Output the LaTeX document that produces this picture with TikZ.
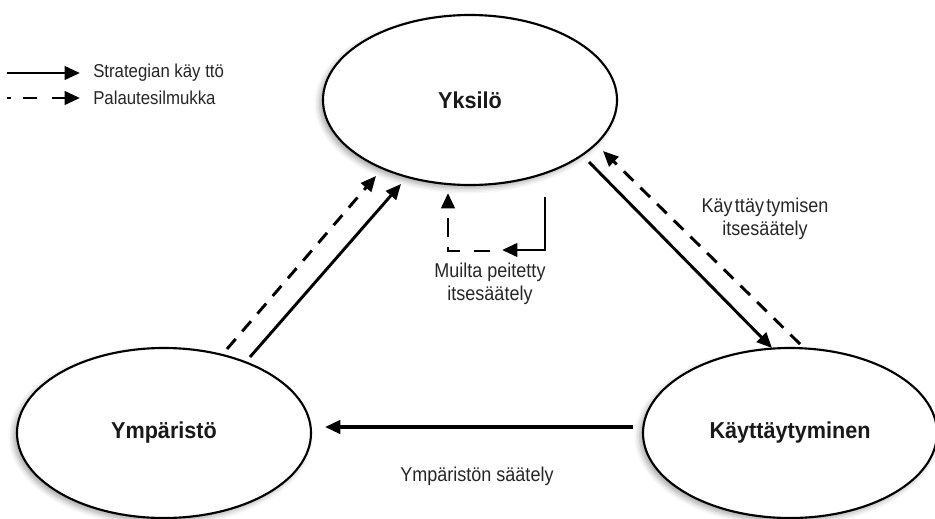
\documentclass[tikz,border=0pt]{standalone}
\usepackage{fontspec}
\setmainfont{Liberation Sans}[FakeStretch=0.9]
\newfontfamily\statefont{Liberation Sans}[FakeStretch=0.94]
\usetikzlibrary{arrows.meta,shapes.geometric,shadows.blur}

\begin{document}
\begin{tikzpicture}[x=0.75pt,y=-0.75pt,
  state/.style={ellipse, draw=black, line width=1.6pt, fill=white,
    minimum width=220.5pt, minimum height=127.5pt, inner sep=0pt,
    font=\statefont\bfseries\fontsize{17.25}{20}\selectfont, text=black!90,
    blur shadow={shadow xshift=-2.5pt, shadow yshift=-2.5pt,
      shadow blur radius=4pt, shadow opacity=35}},
  tip/.style={-{Triangle[length=11.5pt,width=10pt]}},
  strat/.style={tip, line width=2.2pt},
  fb/.style={tip, line width=2.2pt, dash pattern=on 10pt off 7.5pt},
  caption/.style={font=\fontsize{15}{17}\selectfont, text=black!85, align=center},
  legendtext/.style={anchor=west, font=\fontsize{14}{17}\selectfont, text=black!85, inner sep=0pt}
]
\useasboundingbox (0,0) rectangle (935,518);

% the three states
\node[state] (yk) at (470,100) {Yksilö};
\node[state] (ym) at (164,433) {Ympäristö};
\node[state] (ka) at (790,433) {Käyttäytyminen};

% legend
\coordinate (la1) at (7,73);  \coordinate (la2) at (80,73);
\coordinate (lb1) at (7,98);  \coordinate (lb2) at (80,98);
\draw[strat] (la1) -- (la2);
\draw[tip, line width=2.2pt, dash pattern=on 3pt off 9pt on 10.5pt off 11pt on 20pt] (lb1) -- (lb2);
\node[legendtext] (lt1) at (93,73) {Strategian käy ttö};
\node[legendtext] (lt2) at (93,98) {Palautesilmukka};

% Ympäristö -> Yksilö
\coordinate (ld1) at (227,349); \coordinate (ld2) at (376,176);
\coordinate (ls1) at (250,357); \coordinate (ls2) at (401,184);
\draw[fb] (ld1) -- (ld2);
\draw[strat] (ls1) -- (ls2);

% Yksilö <-> Käyttäytyminen
\coordinate (rs1) at (589,162); \coordinate (rs2) at (772,348);
\coordinate (rd1) at (800,344); \coordinate (rd2) at (603,151);
\draw[strat] (rs1) -- (rs2);
\draw[fb] (rd1) -- (rd2);
\node[caption] (kl) at (765,219) {{\spaceskip=0.12em plus 0.05em Käy ttäy tymisen}\\itsesäätely};

% Käyttäytyminen -> Ympäristö
\coordinate (b1) at (633,427); \coordinate (b2) at (325,427);
\draw[tip, line width=2.5pt] (b1) -- (b2);
\node[caption] (bl) at (477,476) {Ympäristön säätely};

% hidden self-regulation loop
\coordinate (s1) at (545,197); \coordinate (s2) at (502,250);
\coordinate (d1) at (490,251); \coordinate (d2) at (448,193);
\draw[strat] (s1) |- (s2);
\draw[tip, line width=2.2pt, dash pattern=on 12pt off 10.5pt on 12pt off 7.5pt on 14pt off 30pt] (d1) -| (d2);
\node[caption] (sl) at (490,284) {Muilta peitetty\\itsesäätely};
\end{tikzpicture}
\end{document}
